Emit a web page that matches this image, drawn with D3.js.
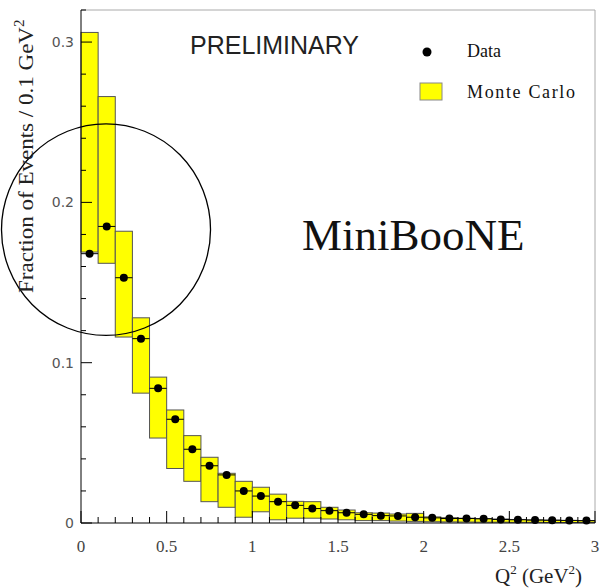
<!DOCTYPE html>
<html>
<head>
<meta charset="utf-8">
<script src="https://cdn.jsdelivr.net/npm/d3@7"></script>
<style>
body { margin: 0; background: #fff; }
svg { display: block; }
</style>
</head>
<body>
<script>
var w = 603, h = 588;

// Q^2 bins, 0.1 GeV^2 wide
var binLow = d3.range(30).map(function(i) { return i / 10; });
var mcHigh = [0.306, 0.266, 0.182, 0.128, 0.091, 0.0705, 0.0545, 0.041, 0.031, 0.026,
              0.0223, 0.018, 0.0135, 0.0133, 0.0098, 0.0081, 0.0064, 0.0062, 0.0056, 0.006,
              0.0038, 0.0033, 0.003, 0.0028, 0.0025, 0.0022, 0.002, 0.0018, 0.0016, 0.0014];
var mcLow = [0.169, 0.162, 0.116, 0.081, 0.053, 0.034, 0.026, 0.0133, 0.0098, 0.0036,
             0.007, 0.002, 0.003, 0.003, 0.0025, 0.002, 0.0015, 0.0015, 0.0012, 0.001,
             0.0008, 0.0007, 0.0006, 0.0005, 0.0005, 0.0004, 0.0004, 0.0003, 0.0003, 0.0003];
var dataVal = [0.168, 0.185, 0.153, 0.115, 0.084, 0.0647, 0.046, 0.0357, 0.030, 0.020,
               0.0168, 0.0133, 0.011, 0.009, 0.0077, 0.0064, 0.0054, 0.0046, 0.0044, 0.0036,
               0.0032, 0.0028, 0.0028, 0.0026, 0.0022, 0.002, 0.0018, 0.0017, 0.0016, 0.0015];

var xMajor = [0, 0.5, 1, 1.5, 2, 2.5, 3];
var xMajorLabels = ['0', '0.5', '1', '1.5', '2', '2.5', '3'];
var yMajor = [0, 0.1, 0.2, 0.3];
var yMajorLabels = ['0', '0.1', '0.2', '0.3'];

// hand drawn circle, centre in data units
var circleCentre = [0.146, 0.183];
var circleRadius = [0.61, 0.066];

var x = d3.scaleLinear().domain([0, 3]).range([81, 595]);
var y = d3.scaleLinear().domain([0, 0.32]).range([523, 10]);

var svg = d3.select('body').append('svg')
    .attr('width', w)
    .attr('height', h);

// frame top/right
svg.append('path')
    .attr('d', 'M' + x(0) + ',' + y(0.32) + 'H' + x(3) + 'V' + y(0))
    .attr('fill', 'none')
    .attr('stroke', '#aaa')
    .attr('stroke-width', 1);

var bins = binLow.map(function(lo, i) {
    return { lo: lo, hi: lo + 0.1, top: mcHigh[i], bot: mcLow[i], val: dataVal[i] };
});

// Monte Carlo boxes
svg.append('g').selectAll('rect')
    .data(bins)
    .enter().append('rect')
    .attr('x', function(d) { return x(d.lo); })
    .attr('y', function(d) { return y(d.top); })
    .attr('width', function(d) { return x(d.hi) - x(d.lo); })
    .attr('height', function(d) { return y(d.bot) - y(d.top); })
    .attr('fill', '#ffff00')
    .attr('stroke', '#555')
    .attr('stroke-width', 1);

// data error bars + points
var pts = svg.append('g');
pts.selectAll('line')
    .data(bins)
    .enter().append('line')
    .attr('x1', function(d) { return x(d.lo); })
    .attr('x2', function(d) { return x(d.hi); })
    .attr('y1', function(d) { return y(d.val); })
    .attr('y2', function(d) { return y(d.val); })
    .attr('stroke', '#000')
    .attr('stroke-width', 1);
pts.selectAll('circle')
    .data(bins)
    .enter().append('circle')
    .attr('cx', function(d) { return x((d.lo + d.hi) / 2); })
    .attr('cy', function(d) { return y(d.val); })
    .attr('r', 4)
    .attr('fill', '#000');

// axes, ticks pointing inward
var xAxis = svg.append('g').attr('transform', 'translate(0,' + y(0) + ')');
xAxis.append('line').attr('x1', x(0)).attr('x2', x(3)).attr('stroke', '#000');
xAxis.selectAll('.minor')
    .data(d3.range(31).map(function(i) { return i / 10; }))
    .enter().append('line')
    .attr('x1', x).attr('x2', x)
    .attr('y1', 0)
    .attr('y2', function(d, i) { return i % 5 === 0 ? -12 : -6; })
    .attr('stroke', '#000');
xAxis.selectAll('text')
    .data(xMajor)
    .enter().append('text')
    .attr('x', x)
    .attr('y', 29)
    .attr('text-anchor', 'middle')
    .attr('font-family', 'Liberation Serif, serif')
    .attr('font-size', 17)
    .attr('fill', '#444')
    .text(function(d, i) { return xMajorLabels[i]; });

var yAxis = svg.append('g').attr('transform', 'translate(' + x(0) + ',0)');
yAxis.append('line').attr('y1', y(0)).attr('y2', y(0.32)).attr('stroke', '#000');
yAxis.selectAll('.minor')
    .data(d3.range(17).map(function(i) { return i * 0.02; }))
    .enter().append('line')
    .attr('y1', y).attr('y2', y)
    .attr('x1', 0)
    .attr('x2', function(d, i) { return i % 5 === 0 ? 11 : 5; })
    .attr('stroke', '#000');
yAxis.selectAll('text')
    .data(yMajor)
    .enter().append('text')
    .attr('x', -7)
    .attr('y', function(d) { return y(d) + 5; })
    .attr('text-anchor', 'end')
    .attr('font-family', 'DejaVu Sans, sans-serif')
    .attr('font-size', 14)
    .attr('fill', '#555')
    .text(function(d, i) { return yMajorLabels[i]; });

// circle annotation
svg.append('ellipse')
    .attr('cx', x(circleCentre[0]))
    .attr('cy', y(circleCentre[1]))
    .attr('rx', x(circleRadius[0]) - x(0))
    .attr('ry', y(0) - y(circleRadius[1]))
    .attr('fill', 'none')
    .attr('stroke', '#000')
    .attr('stroke-width', 1.3);

// axis titles
var yt = svg.append('text')
    .attr('transform', 'translate(33,293)rotate(-90)')
    .attr('font-family', 'Liberation Serif, serif')
    .attr('font-size', 22)
    .attr('fill', '#222');
yt.append('tspan').attr('textLength', 266).attr('lengthAdjust', 'spacingAndGlyphs')
    .text('Fraction of Events / 0.1 GeV');
yt.append('tspan').attr('dy', -9).attr('font-size', 15).text('2');

var xt = svg.append('text')
    .attr('x', 495)
    .attr('y', 583)
    .attr('font-family', 'Liberation Serif, serif')
    .attr('font-size', 21)
    .attr('fill', '#222');
xt.append('tspan').text('Q');
xt.append('tspan').attr('dy', -9).attr('font-size', 13).text('2');
xt.append('tspan').attr('dy', 9).text(' (GeV');
xt.append('tspan').attr('dy', -9).attr('font-size', 13).text('2');
xt.append('tspan').attr('dy', 9).text(')');

// labels
svg.append('text')
    .attr('x', 190)
    .attr('y', 54)
    .attr('font-family', 'Liberation Sans, Arial, sans-serif')
    .attr('font-size', 25)
    .attr('fill', '#222')
    .text('PRELIMINARY');

svg.append('text')
    .attr('x', 302)
    .attr('y', 250)
    .attr('font-family', 'Liberation Serif, serif')
    .attr('font-size', 45)
    .attr('fill', '#111')
    .text('MiniBooNE');

// legend
svg.append('circle').attr('cx', 427).attr('cy', 52).attr('r', 4.5).attr('fill', '#000');
svg.append('text')
    .attr('x', 467).attr('y', 57)
    .attr('font-family', 'Liberation Serif, serif')
    .attr('font-size', 18)
    .attr('fill', '#111')
    .text('Data');
svg.append('rect')
    .attr('x', 420).attr('y', 83).attr('width', 22).attr('height', 17)
    .attr('fill', '#ffff00').attr('stroke', '#888');
svg.append('text')
    .attr('x', 467).attr('y', 98)
    .attr('font-family', 'Liberation Serif, serif')
    .attr('font-size', 18)
    .attr('textLength', 108)
    .attr('fill', '#111')
    .text('Monte Carlo');
</script>
</body>
</html>
